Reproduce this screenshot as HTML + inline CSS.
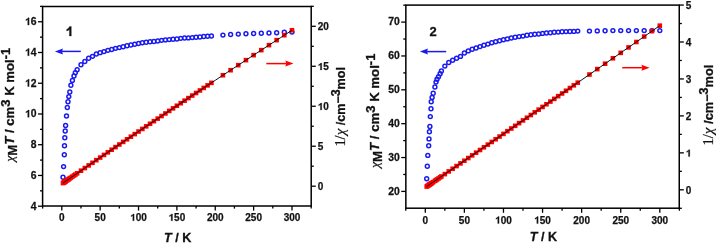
<!DOCTYPE html>
<html><head><meta charset="utf-8"><style>
html,body{margin:0;padding:0;background:#fff;width:716px;height:243px;overflow:hidden}
svg{display:block;will-change:transform;filter:blur(0.3px)}
text{font-family:"Liberation Sans",sans-serif;font-weight:bold;fill:#111}
.tk text{font-size:10px;stroke:#111;stroke-width:0.25px}
.tk path{fill:#111;stroke:#111}
.num{font-size:13px;stroke:#111;stroke-width:0.3px}
.tt{font-size:12.2px;stroke:#111;stroke-width:0.3px}
.xt{font-size:12.6px;stroke:#111;stroke-width:0.3px}
.sup{font-size:12px}
.chi{font-family:"Liberation Serif",serif;font-style:italic;font-weight:normal;font-size:13px;stroke-width:0.2px}
.ser{font-family:"Liberation Serif",serif;font-weight:normal;font-size:14px;stroke-width:0.2px}
.chir{font-size:14.5px}
</style></head><body>
<svg width="716" height="243" viewBox="0 0 716 243">
<g fill="none" stroke="#1a1af0" stroke-width="1.5"><circle cx="63" cy="177.3" r="1.95"/><circle cx="63.6" cy="166.6" r="1.95"/><circle cx="64.3" cy="154.8" r="1.95"/><circle cx="64.5" cy="145.7" r="1.95"/><circle cx="64.8" cy="137.7" r="1.95"/><circle cx="65.2" cy="131" r="1.95"/><circle cx="65.6" cy="125.5" r="1.95"/><circle cx="66.5" cy="116" r="1.95"/><circle cx="67.3" cy="107.5" r="1.95"/><circle cx="68" cy="101.8" r="1.95"/><circle cx="68.8" cy="96.6" r="1.95"/><circle cx="69.8" cy="92" r="1.95"/><circle cx="70.9" cy="85.3" r="1.95"/><circle cx="72.4" cy="80.4" r="1.95"/><circle cx="74" cy="76" r="1.95"/><circle cx="75.3" cy="72.8" r="1.95"/><circle cx="77.15" cy="69.74" r="1.95"/><circle cx="80.98" cy="64.82" r="1.95"/><circle cx="84.82" cy="61.43" r="1.95"/><circle cx="88.66" cy="58.2" r="1.95"/><circle cx="92.49" cy="56.36" r="1.95"/><circle cx="96.33" cy="54.05" r="1.95"/><circle cx="100.16" cy="52.66" r="1.95"/><circle cx="104" cy="51.58" r="1.95"/><circle cx="107.84" cy="50.35" r="1.95"/><circle cx="111.67" cy="49.43" r="1.95"/><circle cx="115.51" cy="48.35" r="1.95"/><circle cx="119.35" cy="47.58" r="1.95"/><circle cx="123.18" cy="46.81" r="1.95"/><circle cx="127.02" cy="45.74" r="1.95"/><circle cx="130.86" cy="44.97" r="1.95"/><circle cx="134.69" cy="44.2" r="1.95"/><circle cx="138.53" cy="43.43" r="1.95"/><circle cx="142.37" cy="42.81" r="1.95"/><circle cx="146.2" cy="42.2" r="1.95"/><circle cx="150.04" cy="41.73" r="1.95"/><circle cx="153.88" cy="41.43" r="1.95"/><circle cx="157.71" cy="40.97" r="1.95"/><circle cx="161.55" cy="40.35" r="1.95"/><circle cx="165.39" cy="39.89" r="1.95"/><circle cx="169.22" cy="39.58" r="1.95"/><circle cx="173.06" cy="39.27" r="1.95"/><circle cx="176.89" cy="38.96" r="1.95"/><circle cx="180.73" cy="38.35" r="1.95"/><circle cx="184.57" cy="38.04" r="1.95"/><circle cx="188.4" cy="37.89" r="1.95"/><circle cx="192.24" cy="37.58" r="1.95"/><circle cx="196.08" cy="37.27" r="1.95"/><circle cx="199.91" cy="36.96" r="1.95"/><circle cx="203.75" cy="36.5" r="1.95"/><circle cx="207.59" cy="36.19" r="1.95"/><circle cx="211.42" cy="36.04" r="1.95"/><circle cx="222.93" cy="35.1" r="1.95"/><circle cx="230.61" cy="34.5" r="1.95"/><circle cx="238.28" cy="34.1" r="1.95"/><circle cx="245.95" cy="33.8" r="1.95"/><circle cx="253.62" cy="33.5" r="1.95"/><circle cx="261.3" cy="33.3" r="1.95"/><circle cx="268.97" cy="33" r="1.95"/><circle cx="276.64" cy="32.7" r="1.95"/><circle cx="284.32" cy="32.3" r="1.95"/><circle cx="291.99" cy="32.1" r="1.95"/></g>
<g fill="#ff0000"><rect x="60.7" y="180.76" width="4.6" height="4.6"/><rect x="61.3" y="180.35" width="4.6" height="4.6"/><rect x="62" y="179.87" width="4.6" height="4.6"/><rect x="62.2" y="179.73" width="4.6" height="4.6"/><rect x="62.5" y="179.52" width="4.6" height="4.6"/><rect x="62.9" y="179.24" width="4.6" height="4.6"/><rect x="63.3" y="178.97" width="4.6" height="4.6"/><rect x="64.2" y="178.35" width="4.6" height="4.6"/><rect x="65" y="177.8" width="4.6" height="4.6"/><rect x="65.7" y="177.32" width="4.6" height="4.6"/><rect x="66.5" y="176.76" width="4.6" height="4.6"/><rect x="67.5" y="176.08" width="4.6" height="4.6"/><rect x="68.6" y="175.32" width="4.6" height="4.6"/><rect x="70.1" y="174.29" width="4.6" height="4.6"/><rect x="71.7" y="173.19" width="4.6" height="4.6"/><rect x="73" y="172.29" width="4.6" height="4.6"/><rect x="74.85" y="171.02" width="4.6" height="4.6"/><rect x="78.68" y="168.39" width="4.6" height="4.6"/><rect x="82.52" y="165.76" width="4.6" height="4.6"/><rect x="86.36" y="163.13" width="4.6" height="4.6"/><rect x="90.19" y="160.5" width="4.6" height="4.6"/><rect x="94.03" y="157.88" width="4.6" height="4.6"/><rect x="97.86" y="155.26" width="4.6" height="4.6"/><rect x="101.7" y="152.65" width="4.6" height="4.6"/><rect x="105.54" y="150.03" width="4.6" height="4.6"/><rect x="109.37" y="147.42" width="4.6" height="4.6"/><rect x="113.21" y="144.81" width="4.6" height="4.6"/><rect x="117.05" y="142.21" width="4.6" height="4.6"/><rect x="120.88" y="139.6" width="4.6" height="4.6"/><rect x="124.72" y="137" width="4.6" height="4.6"/><rect x="128.56" y="134.41" width="4.6" height="4.6"/><rect x="132.39" y="131.81" width="4.6" height="4.6"/><rect x="136.23" y="129.22" width="4.6" height="4.6"/><rect x="140.07" y="126.63" width="4.6" height="4.6"/><rect x="143.9" y="124.05" width="4.6" height="4.6"/><rect x="147.74" y="121.47" width="4.6" height="4.6"/><rect x="151.58" y="118.89" width="4.6" height="4.6"/><rect x="155.41" y="116.31" width="4.6" height="4.6"/><rect x="159.25" y="113.74" width="4.6" height="4.6"/><rect x="163.09" y="111.17" width="4.6" height="4.6"/><rect x="166.92" y="108.6" width="4.6" height="4.6"/><rect x="170.76" y="106.03" width="4.6" height="4.6"/><rect x="174.59" y="103.47" width="4.6" height="4.6"/><rect x="178.43" y="100.91" width="4.6" height="4.6"/><rect x="182.27" y="98.36" width="4.6" height="4.6"/><rect x="186.1" y="95.8" width="4.6" height="4.6"/><rect x="189.94" y="93.25" width="4.6" height="4.6"/><rect x="193.78" y="90.7" width="4.6" height="4.6"/><rect x="197.61" y="88.16" width="4.6" height="4.6"/><rect x="201.45" y="85.62" width="4.6" height="4.6"/><rect x="205.29" y="83.08" width="4.6" height="4.6"/><rect x="209.12" y="80.54" width="4.6" height="4.6"/><rect x="220.63" y="72.95" width="4.6" height="4.6"/><rect x="228.31" y="67.91" width="4.6" height="4.6"/><rect x="235.98" y="62.87" width="4.6" height="4.6"/><rect x="243.65" y="57.85" width="4.6" height="4.6"/><rect x="251.32" y="52.84" width="4.6" height="4.6"/><rect x="259" y="47.84" width="4.6" height="4.6"/><rect x="266.67" y="42.85" width="4.6" height="4.6"/><rect x="274.34" y="37.87" width="4.6" height="4.6"/><rect x="282.02" y="32.9" width="4.6" height="4.6"/><rect x="289.69" y="27.95" width="4.6" height="4.6"/></g>
<polyline fill="none" stroke="#000" stroke-width="0.95" points="63,183.06 68.87,179.02 74.74,174.98 80.61,170.94 86.49,166.92 92.36,162.9 98.23,158.88 104.1,154.88 109.97,150.88 115.84,146.89 121.72,142.9 127.59,138.92 133.46,134.95 139.33,130.98 145.2,127.02 151.07,123.07 156.94,119.13 162.82,115.19 168.69,111.26 174.56,107.33 180.43,103.41 186.3,99.5 192.17,95.6 198.05,91.7 203.92,87.81 209.79,83.92 215.66,80.05 221.53,76.17 227.4,72.31 233.27,68.45 239.15,64.6 245.02,60.76 250.89,56.92 256.76,53.09 262.63,49.27 268.5,45.45 274.38,41.64 280.25,37.84 286.12,34.04 291.99,30.25"/>
<g stroke="#000" stroke-width="1.3"><line x1="42.62" y1="206" x2="42.62" y2="208.6"/><line x1="61.8" y1="206" x2="61.8" y2="210.6"/><line x1="80.98" y1="206" x2="80.98" y2="208.6"/><line x1="100.16" y1="206" x2="100.16" y2="210.6"/><line x1="119.35" y1="206" x2="119.35" y2="208.6"/><line x1="138.53" y1="206" x2="138.53" y2="210.6"/><line x1="157.71" y1="206" x2="157.71" y2="208.6"/><line x1="176.89" y1="206" x2="176.89" y2="210.6"/><line x1="196.08" y1="206" x2="196.08" y2="208.6"/><line x1="215.26" y1="206" x2="215.26" y2="210.6"/><line x1="234.44" y1="206" x2="234.44" y2="208.6"/><line x1="253.62" y1="206" x2="253.62" y2="210.6"/><line x1="272.81" y1="206" x2="272.81" y2="208.6"/><line x1="291.99" y1="206" x2="291.99" y2="210.6"/><line x1="311.17" y1="206" x2="311.17" y2="208.6"/><line x1="38" y1="206.2" x2="42.6" y2="206.2"/><line x1="38" y1="175.46" x2="42.6" y2="175.46"/><line x1="38" y1="144.72" x2="42.6" y2="144.72"/><line x1="38" y1="113.98" x2="42.6" y2="113.98"/><line x1="38" y1="83.24" x2="42.6" y2="83.24"/><line x1="38" y1="52.5" x2="42.6" y2="52.5"/><line x1="38" y1="21.76" x2="42.6" y2="21.76"/><line x1="40" y1="190.83" x2="42.6" y2="190.83"/><line x1="40" y1="160.09" x2="42.6" y2="160.09"/><line x1="40" y1="129.35" x2="42.6" y2="129.35"/><line x1="40" y1="98.61" x2="42.6" y2="98.61"/><line x1="40" y1="67.87" x2="42.6" y2="67.87"/><line x1="40" y1="37.13" x2="42.6" y2="37.13"/><line x1="40" y1="6.39" x2="42.6" y2="6.39"/><line x1="311.2" y1="186.2" x2="315.8" y2="186.2"/><line x1="311.2" y1="146.22" x2="315.8" y2="146.22"/><line x1="311.2" y1="106.25" x2="315.8" y2="106.25"/><line x1="311.2" y1="66.27" x2="315.8" y2="66.27"/><line x1="311.2" y1="26.3" x2="315.8" y2="26.3"/><line x1="311.2" y1="166.21" x2="313.8" y2="166.21"/><line x1="311.2" y1="126.24" x2="313.8" y2="126.24"/><line x1="311.2" y1="86.26" x2="313.8" y2="86.26"/><line x1="311.2" y1="46.29" x2="313.8" y2="46.29"/><line x1="311.2" y1="6.31" x2="313.8" y2="6.31"/></g>
<rect x="42.6" y="6.5" width="268.6" height="199.5" fill="none" stroke="#000" stroke-width="1.5"/>
<g class="tk"><g transform="translate(61.8,220.8) scale(1.0,1.0)"><text text-anchor="middle">0</text></g><g transform="translate(100.16,220.8) scale(1.0,1.0)"><text text-anchor="middle">50</text></g><g transform="translate(138.53,220.8) scale(1.0,1.0)"><text text-anchor="middle"> 00</text><path transform="translate(-8.34,0) scale(0.004883,-0.004883)" d="M528 0H809V1409H590C540 1290 420 1170 165 1090V850C330 900 440 980 528 1060Z" stroke-width="51"/></g><g transform="translate(176.89,220.8) scale(1.0,1.0)"><text text-anchor="middle"> 50</text><path transform="translate(-8.34,0) scale(0.004883,-0.004883)" d="M528 0H809V1409H590C540 1290 420 1170 165 1090V850C330 900 440 980 528 1060Z" stroke-width="51"/></g><g transform="translate(215.26,220.8) scale(1.0,1.0)"><text text-anchor="middle">200</text></g><g transform="translate(253.62,220.8) scale(1.0,1.0)"><text text-anchor="middle">250</text></g><g transform="translate(291.99,220.8) scale(1.0,1.0)"><text text-anchor="middle">300</text></g><g transform="translate(36.6,209.5) scale(1.04,1.06)"><text text-anchor="end">4</text></g><g transform="translate(36.6,178.76) scale(1.04,1.06)"><text text-anchor="end">6</text></g><g transform="translate(36.6,148.02) scale(1.04,1.06)"><text text-anchor="end">8</text></g><g transform="translate(36.6,117.28) scale(1.04,1.06)"><text text-anchor="end"> 0</text><path transform="translate(-11.12,0) scale(0.004883,-0.004883)" d="M528 0H809V1409H590C540 1290 420 1170 165 1090V850C330 900 440 980 528 1060Z" stroke-width="51"/></g><g transform="translate(36.6,86.54) scale(1.04,1.06)"><text text-anchor="end"> 2</text><path transform="translate(-11.12,0) scale(0.004883,-0.004883)" d="M528 0H809V1409H590C540 1290 420 1170 165 1090V850C330 900 440 980 528 1060Z" stroke-width="51"/></g><g transform="translate(36.6,55.8) scale(1.04,1.06)"><text text-anchor="end"> 4</text><path transform="translate(-11.12,0) scale(0.004883,-0.004883)" d="M528 0H809V1409H590C540 1290 420 1170 165 1090V850C330 900 440 980 528 1060Z" stroke-width="51"/></g><g transform="translate(36.6,25.06) scale(1.04,1.06)"><text text-anchor="end"> 6</text><path transform="translate(-11.12,0) scale(0.004883,-0.004883)" d="M528 0H809V1409H590C540 1290 420 1170 165 1090V850C330 900 440 980 528 1060Z" stroke-width="51"/></g><g transform="translate(317.8,189.9) scale(1.0,1.0)"><text>0</text></g><g transform="translate(317.8,149.92) scale(1.0,1.0)"><text>5</text></g><g transform="translate(317.8,109.95) scale(1.0,1.0)"><text> 0</text><path transform="translate(0,0) scale(0.004883,-0.004883)" d="M528 0H809V1409H590C540 1290 420 1170 165 1090V850C330 900 440 980 528 1060Z" stroke-width="51"/></g><g transform="translate(317.8,69.97) scale(1.0,1.0)"><text> 5</text><path transform="translate(0,0) scale(0.004883,-0.004883)" d="M528 0H809V1409H590C540 1290 420 1170 165 1090V850C330 900 440 980 528 1060Z" stroke-width="51"/></g><g transform="translate(317.8,30) scale(1.0,1.0)"><text>20</text></g></g>
<g fill="none" stroke="#1a1af0" stroke-width="1.5"><circle cx="426.7" cy="178.7" r="1.95"/><circle cx="427.3" cy="166.3" r="1.95"/><circle cx="427.8" cy="155.4" r="1.95"/><circle cx="428.7" cy="145.8" r="1.95"/><circle cx="429" cy="138.9" r="1.95"/><circle cx="429.4" cy="131.8" r="1.95"/><circle cx="429.9" cy="126.5" r="1.95"/><circle cx="430.3" cy="116.6" r="1.95"/><circle cx="431" cy="108.8" r="1.95"/><circle cx="431.2" cy="101.8" r="1.95"/><circle cx="432.1" cy="97.4" r="1.95"/><circle cx="433.2" cy="93.3" r="1.95"/><circle cx="434.9" cy="87" r="1.95"/><circle cx="436" cy="82.1" r="1.95"/><circle cx="437" cy="79.3" r="1.95"/><circle cx="438.5" cy="76.8" r="1.95"/><circle cx="440.1" cy="73.8" r="1.95"/><circle cx="441.4" cy="71" r="1.95"/><circle cx="444.84" cy="66.1" r="1.95"/><circle cx="448.75" cy="62.5" r="1.95"/><circle cx="452.66" cy="60.2" r="1.95"/><circle cx="456.57" cy="58.3" r="1.95"/><circle cx="460.48" cy="56.4" r="1.95"/><circle cx="464.38" cy="53" r="1.95"/><circle cx="468.29" cy="50.9" r="1.95"/><circle cx="472.2" cy="49.3" r="1.95"/><circle cx="476.11" cy="48" r="1.95"/><circle cx="480.02" cy="46.6" r="1.95"/><circle cx="483.93" cy="45.3" r="1.95"/><circle cx="487.84" cy="44.1" r="1.95"/><circle cx="491.74" cy="42.8" r="1.95"/><circle cx="495.65" cy="41.8" r="1.95"/><circle cx="499.56" cy="40.7" r="1.95"/><circle cx="503.47" cy="39.8" r="1.95"/><circle cx="507.38" cy="38.9" r="1.95"/><circle cx="511.29" cy="38" r="1.95"/><circle cx="515.2" cy="37.3" r="1.95"/><circle cx="519.1" cy="36.6" r="1.95"/><circle cx="523.01" cy="36.1" r="1.95"/><circle cx="526.92" cy="35.3" r="1.95"/><circle cx="530.83" cy="34.8" r="1.95"/><circle cx="534.74" cy="34.3" r="1.95"/><circle cx="538.65" cy="34" r="1.95"/><circle cx="542.56" cy="33.4" r="1.95"/><circle cx="546.46" cy="33" r="1.95"/><circle cx="550.37" cy="32.7" r="1.95"/><circle cx="554.28" cy="32.3" r="1.95"/><circle cx="558.19" cy="32.1" r="1.95"/><circle cx="562.1" cy="31.8" r="1.95"/><circle cx="566.01" cy="31.6" r="1.95"/><circle cx="569.91" cy="31.5" r="1.95"/><circle cx="573.82" cy="31.4" r="1.95"/><circle cx="577.73" cy="31.1" r="1.95"/><circle cx="589.46" cy="31.1" r="1.95"/><circle cx="597.27" cy="30.9" r="1.95"/><circle cx="605.09" cy="30.7" r="1.95"/><circle cx="612.91" cy="30.6" r="1.95"/><circle cx="620.73" cy="30.6" r="1.95"/><circle cx="628.54" cy="30.6" r="1.95"/><circle cx="636.36" cy="30.6" r="1.95"/><circle cx="644.18" cy="30.6" r="1.95"/><circle cx="651.99" cy="30.6" r="1.95"/><circle cx="659.81" cy="30.6" r="1.95"/></g>
<g fill="#ff0000"><rect x="424.4" y="184.22" width="4.6" height="4.6"/><rect x="425" y="183.81" width="4.6" height="4.6"/><rect x="425.5" y="183.46" width="4.6" height="4.6"/><rect x="426.4" y="182.85" width="4.6" height="4.6"/><rect x="426.7" y="182.64" width="4.6" height="4.6"/><rect x="427.1" y="182.37" width="4.6" height="4.6"/><rect x="427.6" y="182.03" width="4.6" height="4.6"/><rect x="428" y="181.76" width="4.6" height="4.6"/><rect x="428.7" y="181.28" width="4.6" height="4.6"/><rect x="428.9" y="181.14" width="4.6" height="4.6"/><rect x="429.8" y="180.52" width="4.6" height="4.6"/><rect x="430.9" y="179.77" width="4.6" height="4.6"/><rect x="432.6" y="178.61" width="4.6" height="4.6"/><rect x="433.7" y="177.86" width="4.6" height="4.6"/><rect x="434.7" y="177.17" width="4.6" height="4.6"/><rect x="436.2" y="176.15" width="4.6" height="4.6"/><rect x="437.8" y="175.05" width="4.6" height="4.6"/><rect x="439.1" y="174.16" width="4.6" height="4.6"/><rect x="442.54" y="171.81" width="4.6" height="4.6"/><rect x="446.45" y="169.13" width="4.6" height="4.6"/><rect x="450.36" y="166.45" width="4.6" height="4.6"/><rect x="454.27" y="163.78" width="4.6" height="4.6"/><rect x="458.18" y="161.1" width="4.6" height="4.6"/><rect x="462.08" y="158.42" width="4.6" height="4.6"/><rect x="465.99" y="155.74" width="4.6" height="4.6"/><rect x="469.9" y="153.06" width="4.6" height="4.6"/><rect x="473.81" y="150.37" width="4.6" height="4.6"/><rect x="477.72" y="147.69" width="4.6" height="4.6"/><rect x="481.63" y="145.01" width="4.6" height="4.6"/><rect x="485.54" y="142.32" width="4.6" height="4.6"/><rect x="489.44" y="139.64" width="4.6" height="4.6"/><rect x="493.35" y="136.95" width="4.6" height="4.6"/><rect x="497.26" y="134.26" width="4.6" height="4.6"/><rect x="501.17" y="131.58" width="4.6" height="4.6"/><rect x="505.08" y="128.89" width="4.6" height="4.6"/><rect x="508.99" y="126.2" width="4.6" height="4.6"/><rect x="512.9" y="123.51" width="4.6" height="4.6"/><rect x="516.8" y="120.82" width="4.6" height="4.6"/><rect x="520.71" y="118.13" width="4.6" height="4.6"/><rect x="524.62" y="115.43" width="4.6" height="4.6"/><rect x="528.53" y="112.74" width="4.6" height="4.6"/><rect x="532.44" y="110.04" width="4.6" height="4.6"/><rect x="536.35" y="107.35" width="4.6" height="4.6"/><rect x="540.26" y="104.65" width="4.6" height="4.6"/><rect x="544.16" y="101.95" width="4.6" height="4.6"/><rect x="548.07" y="99.26" width="4.6" height="4.6"/><rect x="551.98" y="96.56" width="4.6" height="4.6"/><rect x="555.89" y="93.86" width="4.6" height="4.6"/><rect x="559.8" y="91.16" width="4.6" height="4.6"/><rect x="563.71" y="88.46" width="4.6" height="4.6"/><rect x="567.61" y="85.75" width="4.6" height="4.6"/><rect x="571.52" y="83.05" width="4.6" height="4.6"/><rect x="575.43" y="80.35" width="4.6" height="4.6"/><rect x="587.16" y="72.23" width="4.6" height="4.6"/><rect x="594.97" y="66.81" width="4.6" height="4.6"/><rect x="602.79" y="61.4" width="4.6" height="4.6"/><rect x="610.61" y="55.97" width="4.6" height="4.6"/><rect x="618.43" y="50.55" width="4.6" height="4.6"/><rect x="626.24" y="45.12" width="4.6" height="4.6"/><rect x="634.06" y="39.69" width="4.6" height="4.6"/><rect x="641.88" y="34.25" width="4.6" height="4.6"/><rect x="649.69" y="28.81" width="4.6" height="4.6"/><rect x="657.51" y="23.37" width="4.6" height="4.6"/></g>
<polyline fill="none" stroke="#000" stroke-width="0.95" points="426.7,186.52 432.68,182.43 438.65,178.34 444.63,174.25 450.61,170.16 456.59,166.06 462.56,161.97 468.54,157.87 474.52,153.77 480.49,149.66 486.47,145.56 492.45,141.45 498.43,137.35 504.4,133.24 510.38,129.12 516.36,125.01 522.33,120.89 528.31,116.77 534.29,112.65 540.27,108.53 546.24,104.41 552.22,100.28 558.2,96.15 564.18,92.02 570.15,87.89 576.13,83.76 582.11,79.62 588.08,75.48 594.06,71.34 600.04,67.2 606.02,63.06 611.99,58.91 617.97,54.76 623.95,50.61 629.92,46.46 635.9,42.3 641.88,38.15 647.86,33.99 653.83,29.83 659.81,25.67"/>
<g stroke="#000" stroke-width="1.3"><line x1="405.76" y1="208.2" x2="405.76" y2="210.8"/><line x1="425.3" y1="208.2" x2="425.3" y2="212.8"/><line x1="444.84" y1="208.2" x2="444.84" y2="210.8"/><line x1="464.38" y1="208.2" x2="464.38" y2="212.8"/><line x1="483.93" y1="208.2" x2="483.93" y2="210.8"/><line x1="503.47" y1="208.2" x2="503.47" y2="212.8"/><line x1="523.01" y1="208.2" x2="523.01" y2="210.8"/><line x1="542.56" y1="208.2" x2="542.56" y2="212.8"/><line x1="562.1" y1="208.2" x2="562.1" y2="210.8"/><line x1="581.64" y1="208.2" x2="581.64" y2="212.8"/><line x1="601.18" y1="208.2" x2="601.18" y2="210.8"/><line x1="620.73" y1="208.2" x2="620.73" y2="212.8"/><line x1="640.27" y1="208.2" x2="640.27" y2="210.8"/><line x1="659.81" y1="208.2" x2="659.81" y2="212.8"/><line x1="679.35" y1="208.2" x2="679.35" y2="210.8"/><line x1="401.25" y1="191.4" x2="405.85" y2="191.4"/><line x1="401.25" y1="157.54" x2="405.85" y2="157.54"/><line x1="401.25" y1="123.68" x2="405.85" y2="123.68"/><line x1="401.25" y1="89.82" x2="405.85" y2="89.82"/><line x1="401.25" y1="55.96" x2="405.85" y2="55.96"/><line x1="401.25" y1="22.1" x2="405.85" y2="22.1"/><line x1="403.25" y1="174.47" x2="405.85" y2="174.47"/><line x1="403.25" y1="140.61" x2="405.85" y2="140.61"/><line x1="403.25" y1="106.75" x2="405.85" y2="106.75"/><line x1="403.25" y1="72.89" x2="405.85" y2="72.89"/><line x1="403.25" y1="39.03" x2="405.85" y2="39.03"/><line x1="403.25" y1="5.17" x2="405.85" y2="5.17"/><line x1="679.25" y1="189.8" x2="683.85" y2="189.8"/><line x1="679.25" y1="152.85" x2="683.85" y2="152.85"/><line x1="679.25" y1="115.9" x2="683.85" y2="115.9"/><line x1="679.25" y1="78.95" x2="683.85" y2="78.95"/><line x1="679.25" y1="42" x2="683.85" y2="42"/><line x1="679.25" y1="5.05" x2="683.85" y2="5.05"/><line x1="679.25" y1="208.28" x2="681.85" y2="208.28"/><line x1="679.25" y1="171.33" x2="681.85" y2="171.33"/><line x1="679.25" y1="134.38" x2="681.85" y2="134.38"/><line x1="679.25" y1="97.43" x2="681.85" y2="97.43"/><line x1="679.25" y1="60.47" x2="681.85" y2="60.47"/><line x1="679.25" y1="23.53" x2="681.85" y2="23.53"/></g>
<rect x="405.85" y="5.1" width="273.4" height="203.1" fill="none" stroke="#000" stroke-width="1.5"/>
<g class="tk"><g transform="translate(425.3,223.5) scale(1.0,1.0)"><text text-anchor="middle">0</text></g><g transform="translate(464.38,223.5) scale(1.0,1.0)"><text text-anchor="middle">50</text></g><g transform="translate(503.47,223.5) scale(1.0,1.0)"><text text-anchor="middle"> 00</text><path transform="translate(-8.34,0) scale(0.004883,-0.004883)" d="M528 0H809V1409H590C540 1290 420 1170 165 1090V850C330 900 440 980 528 1060Z" stroke-width="51"/></g><g transform="translate(542.56,223.5) scale(1.0,1.0)"><text text-anchor="middle"> 50</text><path transform="translate(-8.34,0) scale(0.004883,-0.004883)" d="M528 0H809V1409H590C540 1290 420 1170 165 1090V850C330 900 440 980 528 1060Z" stroke-width="51"/></g><g transform="translate(581.64,223.5) scale(1.0,1.0)"><text text-anchor="middle">200</text></g><g transform="translate(620.73,223.5) scale(1.0,1.0)"><text text-anchor="middle">250</text></g><g transform="translate(659.81,223.5) scale(1.0,1.0)"><text text-anchor="middle">300</text></g><g transform="translate(399.85,194.7) scale(1.04,1.06)"><text text-anchor="end">20</text></g><g transform="translate(399.85,160.84) scale(1.04,1.06)"><text text-anchor="end">30</text></g><g transform="translate(399.85,126.98) scale(1.04,1.06)"><text text-anchor="end">40</text></g><g transform="translate(399.85,93.12) scale(1.04,1.06)"><text text-anchor="end">50</text></g><g transform="translate(399.85,59.26) scale(1.04,1.06)"><text text-anchor="end">60</text></g><g transform="translate(399.85,25.4) scale(1.04,1.06)"><text text-anchor="end">70</text></g><g transform="translate(685.85,193.5) scale(1.0,1.0)"><text>0</text></g><g transform="translate(685.85,156.55) scale(1.0,1.0)"><text> </text><path transform="translate(0,0) scale(0.004883,-0.004883)" d="M528 0H809V1409H590C540 1290 420 1170 165 1090V850C330 900 440 980 528 1060Z" stroke-width="51"/></g><g transform="translate(685.85,119.6) scale(1.0,1.0)"><text>2</text></g><g transform="translate(685.85,82.65) scale(1.0,1.0)"><text>3</text></g><g transform="translate(685.85,45.7) scale(1.0,1.0)"><text>4</text></g><g transform="translate(685.85,8.75) scale(1.0,1.0)"><text>5</text></g></g>
<line x1="80.8" y1="51.4" x2="61.9" y2="51.4" stroke="#1a1af0" stroke-width="1.5"/>
<path d="M54.9,51.4 L62.9,48.4 L62.1,51.4 L62.9,54.4 Z" fill="#1a1af0"/>
<line x1="266.3" y1="63.6" x2="286.4" y2="63.6" stroke="#ff0000" stroke-width="1.5"/>
<path d="M293.4,63.6 L285.4,60.6 L286.2,63.6 L285.4,66.6 Z" fill="#ff0000"/>
<line x1="446.2" y1="51.6" x2="426.9" y2="51.6" stroke="#1a1af0" stroke-width="1.5"/>
<path d="M419.9,51.6 L427.9,48.6 L427.1,51.6 L427.9,54.6 Z" fill="#1a1af0"/>
<line x1="622.2" y1="67.7" x2="642.5" y2="67.7" stroke="#ff0000" stroke-width="1.5"/>
<path d="M649.5,67.7 L641.5,64.7 L642.3,67.7 L641.5,70.7 Z" fill="#ff0000"/>
<path fill="#111" stroke="#111" stroke-width="0.3" d="M71.3,26.4 V36 H69.4 V29.4 C68.7,30.1 67.8,30.6 66.7,31 V29.3 C67.9,28.8 68.9,27.8 69.6,26.4 Z"/>
<text class="num" x="433" y="36" text-anchor="middle">2</text>
<text class="tt" transform="translate(13.7,161.8) rotate(-90)" textLength="114" lengthAdjust="spacingAndGlyphs"><tspan class="chi">χ</tspan><tspan dy="2.8">M</tspan><tspan dy="-2.8" font-style="italic">T</tspan> / cm<tspan class="sup" dy="-3.8">3</tspan><tspan dy="3.8"> K mol</tspan><tspan class="sup" dy="-3.8">-1</tspan></text>
<text class="tt" transform="translate(378.7,168.1) rotate(-90)" textLength="114.5" lengthAdjust="spacingAndGlyphs"><tspan class="chi">χ</tspan><tspan dy="2.8">M</tspan><tspan dy="-2.8" font-style="italic">T</tspan> / cm<tspan class="sup" dy="-3.8">3</tspan><tspan dy="3.8"> K mol</tspan><tspan class="sup" dy="-3.8">-1</tspan></text>
<text class="tt" transform="translate(344.6,146.6) rotate(-90)" textLength="79.5" lengthAdjust="spacingAndGlyphs"><tspan class="ser">1/</tspan><tspan class="chi chir">χ</tspan> /cm<tspan class="sup" dy="-2.2">−</tspan><tspan class="sup" dy="-2.3">3</tspan><tspan dy="4.5">mol</tspan></text>
<text class="tt" transform="translate(712.8,145.6) rotate(-90)" textLength="81.0" lengthAdjust="spacingAndGlyphs"><tspan class="ser">1/</tspan><tspan class="chi chir">χ</tspan> /cm<tspan class="sup" dy="-2.2">−</tspan><tspan class="sup" dy="-2.3">3</tspan><tspan dy="4.5">mol</tspan></text>
<text class="xt" x="177.6" y="241.5" text-anchor="middle"><tspan font-style="italic">T</tspan> / K</text>
<text class="xt" x="543.5" y="240.8" text-anchor="middle"><tspan font-style="italic">T</tspan> / K</text>
</svg>
</body></html>
